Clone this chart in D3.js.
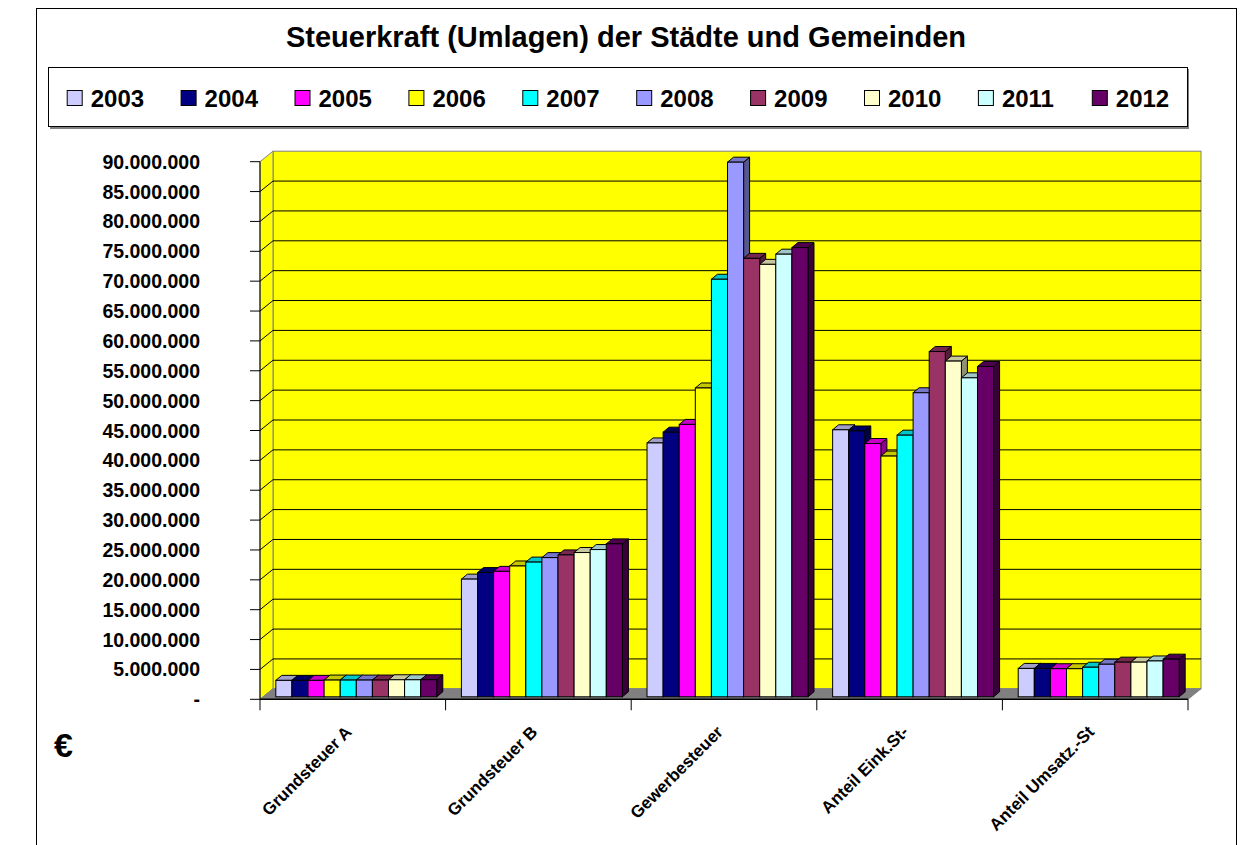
<!DOCTYPE html>
<html>
<head>
<meta charset="utf-8">
<script src="https://cdn.jsdelivr.net/npm/d3@7/dist/d3.min.js"></script>
<style>
  body { margin: 0; background: #ffffff; }
  text { font-family: "Liberation Sans", Arial, sans-serif; font-weight: bold; fill: #000; }
</style>
</head>
<body>
<div id="chart"></div>
<script>
// Chart data
const categories = ["Grundsteuer A", "Grundsteuer B", "Gewerbesteuer", "Anteil Eink.St-", "Anteil Umsatz.-St"];
const years = ["2003", "2004", "2005", "2006", "2007", "2008", "2009", "2010", "2011", "2012"];
const yearColors = ["#CCCCFF", "#000080", "#FF00FF", "#FFFF00", "#00FFFF", "#9999FF", "#993366", "#FFFFCC", "#CCFFFF", "#660066"];

const grundsteuerA = [2750000, 2750000, 2750000, 2800000, 2800000, 2800000, 2800000, 2850000, 2850000, 2850000];
const grundsteuerB = [19700000, 20800000, 21000000, 21900000, 22550000, 23300000, 23750000, 24150000, 24650000, 25600000];
const gewerbesteuer = [42500000, 44300000, 45600000, 51700000, 69900000, 89500000, 73400000, 72400000, 74100000, 75200000];
const anteilEink = [44700000, 44500000, 42400000, 40300000, 43800000, 50900000, 57800000, 56200000, 53400000, 55300000];
const anteilUmsatz = [4750000, 4750000, 4700000, 4700000, 4950000, 5450000, 5800000, 5800000, 6000000, 6300000];

const tickValues = [0, 5000000, 10000000, 15000000, 20000000, 25000000, 30000000, 35000000, 40000000,
  45000000, 50000000, 55000000, 60000000, 65000000, 70000000, 75000000, 80000000, 85000000, 90000000];

const seriesByCategory = [grundsteuerA, grundsteuerB, gewerbesteuer, anteilEink, anteilUmsatz];

// SVG area
const svgWidth = 1244;
const svgHeight = 845;

// Plot area (front plane) and 3D offsets
const plot = { left: 260, right: 1188, top: 161.7, bottom: 699.3 };
const wallDepth = { dx: 13, dy: 10.5 };
const barShift = { dx: 3.5, dy: 2.5 };
const barDepth = { dx: 6, dy: 5 };

const svg = d3.select("#chart")
  .append("svg")
  .attr("width", svgWidth)
  .attr("height", svgHeight);

// Outer frame
svg.append("rect")
  .attr("x", 36.5)
  .attr("y", 8.5)
  .attr("width", 1200)
  .attr("height", 850)
  .attr("fill", "#fff")
  .attr("stroke", "#000")
  .attr("stroke-width", 1);

// Title
svg.append("text")
  .attr("x", 626)
  .attr("y", 47)
  .attr("text-anchor", "middle")
  .style("font-size", "29px")
  .text("Steuerkraft (Umlagen) der Städte und Gemeinden");

// Legend
const legendScale = d3.scaleLinear()
  .domain([0, years.length - 1])
  .range([66.7, 66.7 + 9 * 113.9]);

svg.append("rect")
  .attr("x", 50)
  .attr("y", 69)
  .attr("width", 1139)
  .attr("height", 60)
  .attr("fill", "#808080");

svg.append("rect")
  .attr("x", 48.5)
  .attr("y", 67.5)
  .attr("width", 1139)
  .attr("height", 59)
  .attr("fill", "#fff")
  .attr("stroke", "#000");

const legendItems = svg.selectAll("g.legend")
  .data(years)
  .enter()
  .append("g")
  .attr("class", "legend")
  .attr("transform", (d, i) => `translate(${legendScale(i)}, 90)`);

legendItems.append("rect")
  .attr("x", 0.5)
  .attr("y", 0.5)
  .attr("width", 15)
  .attr("height", 15)
  .attr("fill", (d, i) => yearColors[i])
  .attr("stroke", "#000");

legendItems.append("text")
  .attr("x", 24)
  .attr("y", 16.5)
  .style("font-size", "24px")
  .text(d => d);

// Scales
const yScale = d3.scaleLinear()
  .domain([0, 90000000])
  .range([plot.bottom, plot.top]);

const x0 = d3.scaleBand()
  .domain(categories)
  .range([plot.left, plot.right])
  .paddingInner(0)
  .paddingOuter(0);

const x1 = d3.scaleBand()
  .domain(years)
  .range([0, x0.bandwidth()])
  .paddingInner(0)
  .paddingOuter(0.765);

// Walls: back, side and floor
const chartGroup = svg.append("g");

chartGroup.append("rect")
  .attr("x", plot.left + wallDepth.dx)
  .attr("y", plot.top - wallDepth.dy)
  .attr("width", plot.right - plot.left)
  .attr("height", plot.bottom - plot.top)
  .attr("fill", "#FFFF00")
  .attr("stroke", "#808080");

chartGroup.append("polygon")
  .attr("points", [
    [plot.left, plot.top],
    [plot.left + wallDepth.dx, plot.top - wallDepth.dy],
    [plot.left + wallDepth.dx, plot.bottom - wallDepth.dy],
    [plot.left, plot.bottom]
  ].join(" "))
  .attr("fill", "#FFFF00")
  .attr("stroke", "#808080");

// Gridlines on back wall and side wall
const gridTicks = tickValues.filter(v => v > 0 && v < 90000000);

chartGroup.selectAll("line.grid")
  .data(gridTicks)
  .enter()
  .append("line")
  .attr("class", "grid")
  .attr("x1", plot.left + wallDepth.dx)
  .attr("x2", plot.right + wallDepth.dx)
  .attr("y1", d => yScale(d) - wallDepth.dy)
  .attr("y2", d => yScale(d) - wallDepth.dy)
  .attr("stroke", "#000");

chartGroup.selectAll("line.sidegrid")
  .data(gridTicks)
  .enter()
  .append("line")
  .attr("class", "sidegrid")
  .attr("x1", plot.left)
  .attr("x2", plot.left + wallDepth.dx)
  .attr("y1", d => yScale(d))
  .attr("y2", d => yScale(d) - wallDepth.dy)
  .attr("stroke", "#000");

// Floor
chartGroup.append("polygon")
  .attr("points", [
    [plot.left, plot.bottom],
    [plot.right, plot.bottom],
    [plot.right + wallDepth.dx, plot.bottom - wallDepth.dy],
    [plot.left + wallDepth.dx, plot.bottom - wallDepth.dy]
  ].join(" "))
  .attr("fill", "#808080")
  .attr("stroke", "#808080");

// Y axis line and ticks
const deFormat = d3.formatLocale({ decimal: ",", thousands: ".", grouping: [3], currency: ["", " €"] }).format(",.0f");

chartGroup.append("line")
  .attr("x1", plot.left)
  .attr("x2", plot.left)
  .attr("y1", plot.top)
  .attr("y2", plot.bottom)
  .attr("stroke", "#000");

chartGroup.selectAll("line.ytick")
  .data(tickValues)
  .enter()
  .append("line")
  .attr("class", "ytick")
  .attr("x1", plot.left - 10)
  .attr("x2", plot.left)
  .attr("y1", d => yScale(d))
  .attr("y2", d => yScale(d))
  .attr("stroke", "#000");

chartGroup.selectAll("text.ylabel")
  .data(tickValues)
  .enter()
  .append("text")
  .attr("class", "ylabel")
  .attr("x", 200)
  .attr("y", d => yScale(d))
  .attr("dy", "0.36em")
  .attr("text-anchor", "end")
  .style("font-size", "19.5px")
  .text(d => d === 0 ? "-" : deFormat(d));

// Bars (3D boxes)
const barData = [];
categories.forEach((cat, ci) => {
  years.forEach((yr, yi) => {
    barData.push({ cat: cat, year: yr, value: seriesByCategory[ci][yi], color: yearColors[yi] });
  });
});

const barGroups = chartGroup.selectAll("g.bar")
  .data(barData)
  .enter()
  .append("g")
  .attr("class", "bar");

const barX = d => x0(d.cat) + x1(d.year) + barShift.dx;
const barTop = d => yScale(d.value) - barShift.dy;
const barBottom = yScale(0) - barShift.dy;

barGroups.append("polygon")
  .attr("points", d => {
    const xr = barX(d) + x1.bandwidth();
    return [
      [xr, barTop(d)],
      [xr + barDepth.dx, barTop(d) - barDepth.dy],
      [xr + barDepth.dx, barBottom - barDepth.dy],
      [xr, barBottom]
    ].join(" ");
  })
  .attr("fill", d => d3.color(d.color).darker(1.6))
  .attr("stroke", "#000")
  .attr("stroke-linejoin", "round");

barGroups.append("polygon")
  .attr("points", d => {
    const xl = barX(d);
    const xr = xl + x1.bandwidth();
    return [
      [xl, barTop(d)],
      [xl + barDepth.dx, barTop(d) - barDepth.dy],
      [xr + barDepth.dx, barTop(d) - barDepth.dy],
      [xr, barTop(d)]
    ].join(" ");
  })
  .attr("fill", d => d3.color(d.color).darker(0.7))
  .attr("stroke", "#000")
  .attr("stroke-linejoin", "round");

barGroups.append("rect")
  .attr("x", d => barX(d))
  .attr("y", d => barTop(d))
  .attr("width", x1.bandwidth())
  .attr("height", d => barBottom - barTop(d))
  .attr("fill", d => d.color)
  .attr("stroke", "#000");

// X axis line, ticks and labels
chartGroup.append("line")
  .attr("x1", plot.left)
  .attr("x2", plot.right)
  .attr("y1", plot.bottom)
  .attr("y2", plot.bottom)
  .attr("stroke", "#000")
  .attr("stroke-width", 1.5);

const xTickPositions = categories.map(c => x0(c)).concat([plot.right]);

chartGroup.selectAll("line.xtick")
  .data(xTickPositions)
  .enter()
  .append("line")
  .attr("class", "xtick")
  .attr("x1", d => d)
  .attr("x2", d => d)
  .attr("y1", plot.bottom)
  .attr("y2", plot.bottom + 11)
  .attr("stroke", "#000");

chartGroup.selectAll("text.xlabel")
  .data(categories)
  .enter()
  .append("text")
  .attr("class", "xlabel")
  .attr("text-anchor", "end")
  .attr("transform", d => `translate(${x0(d) + x0.bandwidth() / 2}, 733) rotate(-45)`)
  .style("font-size", "17px")
  .text(d => d);

// Currency label
svg.append("text")
  .attr("x", 54)
  .attr("y", 757)
  .style("font-size", "34px")
  .text("€");
</script>
</body>
</html>
